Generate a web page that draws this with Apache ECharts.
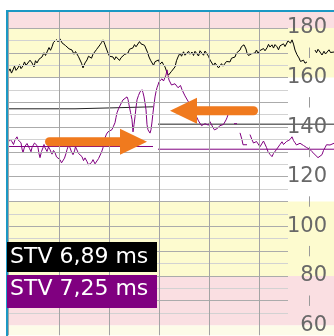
<!DOCTYPE html>
<html>
<head>
<meta charset="utf-8">
<script src="https://cdn.jsdelivr.net/npm/echarts@6/dist/echarts.min.js"></script>
<style>
  html, body { margin: 0; padding: 0; background: #fff; }
  #chart { width: 334px; height: 336px; }
</style>
</head>
<body>
<div id="chart"></div>
<script>
// Time axis in minutes, heart rate in bpm.
const xMin = -0.02, xMax = 6.5;
const yMin = 56.06, yMax = 186.44;

// Right-hand scale labels (bpm)
const scaleLabels = [60, 80, 100, 120, 140, 160, 180];
// Short marks between the labels (bpm)
const midMarks = [70, 90, 110, 130, 150, 170];
// Horizontal grid values (bpm)
const majorLines = [70, 80, 90, 100, 110, 120, 130, 140, 150, 160, 170, 180];
const minorLines = [65, 75, 85, 95, 105, 115, 125, 135, 145, 155, 165, 175];
// One vertical line per minute
const minuteLines = [1, 2, 3, 4, 5];

// Background zones [from bpm, to bpm]
const pinkZones = [[180, 186.44], [60, 80]];
const yellowZones = [[160, 180], [80, 110]];
const creamZones = [[56.06, 60]];

// Twin 1 heart rate trace [minute, bpm]
const fhr1 = [
[-0.02,162.0],[0.02,163.5],[0.05,161.8],[0.08,163.1],[0.11,164.6],[0.14,162.9],[0.18,163.9],[0.21,165.2],[0.24,163.6],[0.28,164.7],
[0.31,166.3],[0.34,164.9],[0.38,165.5],[0.42,167.0],[0.46,165.9],[0.50,164.3],[0.53,166.8],[0.56,165.9],[0.60,167.4],[0.63,166.6],
[0.66,168.3],[0.70,170.0],[0.73,168.9],[0.76,170.3],[0.80,172.1],[0.83,171.0],[0.86,172.4],[0.89,174.2],[0.92,174.0],[0.95,175.3],
[0.98,174.4],[1.02,175.6],[1.06,174.0],[1.10,174.8],[1.13,172.9],[1.16,173.2],[1.20,171.6],[1.23,172.4],[1.26,171.1],[1.30,169.4],
[1.33,170.5],[1.36,169.9],[1.39,168.4],[1.42,167.9],[1.45,165.8],[1.48,163.9],[1.52,165.9],[1.56,167.1],[1.59,168.6],[1.62,169.1],
[1.65,167.8],[1.68,169.4],[1.72,169.9],[1.75,171.3],[1.78,170.6],[1.82,173.2],[1.85,174.1],[1.88,175.2],[1.90,174.3],[1.92,173.2],
[1.95,171.5],[1.98,169.9],[2.01,168.6],[2.04,169.2],[2.08,168.3],[2.11,167.2],[2.14,168.4],[2.18,167.9],[2.21,166.9],[2.24,168.0],
[2.28,167.9],[2.31,169.3],[2.34,168.6],[2.38,169.9],[2.41,171.4],[2.44,170.7],[2.48,172.0],[2.51,173.3],[2.54,172.4],[2.58,173.2],
[2.61,174.5],[2.64,173.6],[2.68,174.0],[2.71,173.0],[2.74,172.4],[2.77,170.2],[2.80,168.3],[2.83,167.0],[2.86,166.3],[2.89,164.9],
[2.92,166.4],[2.96,165.9],[2.99,167.1],[3.02,165.4],[3.06,166.3],[3.09,165.2],[3.12,164.3],[3.16,162.0],[3.19,161.0],[3.22,160.3],
[3.25,162.5],[3.28,163.1],[3.32,164.3],[3.35,166.8],[3.38,168.3],[3.42,169.9],[3.45,168.6],[3.49,170.4],[3.52,169.0],[3.56,169.1],
[3.59,170.6],[3.62,169.4],[3.66,170.3],[3.69,168.9],[3.72,170.6],[3.76,169.9],[3.79,168.7],[3.82,170.8],[3.86,170.3],[3.89,169.0],
[3.92,170.7],[3.96,169.9],[3.99,168.6],[4.02,167.1],[4.06,166.3],[4.09,164.8],[4.12,165.9],[4.16,165.1],[4.19,163.9],[4.22,164.3],
[4.25,165.6],[4.28,164.6],[4.32,165.1],[4.35,166.5],[4.38,165.7],[4.42,166.3],[4.45,167.8],[4.48,167.1],[4.52,168.3],[4.55,169.9],
[4.58,169.2],[4.62,171.1],[4.65,172.5],[4.68,172.0],[4.70,173.2],[4.72,174.0],[4.74,171.5],[4.76,169.9],[4.79,168.9],[4.82,168.3],
[4.85,169.6],[4.88,168.8],[4.92,169.9],[4.95,171.1],[4.98,169.8],[5.02,170.9],[5.06,170.3],[5.09,171.7],[5.12,170.8],[5.16,172.0],
[5.19,173.4],[5.22,172.3],[5.26,173.2],[5.29,171.9],[5.32,173.3],[5.36,172.4],[5.39,171.2],[5.42,172.8],[5.46,172.0],[5.49,173.6],
[5.52,172.5],[5.56,173.2],[5.58,174.8],[5.60,174.4],[5.63,173.9],[5.66,175.2],[5.69,173.5],[5.72,171.1],[5.76,169.2],[5.80,167.9],
[5.83,166.5],[5.86,165.9],[5.89,167.0],[5.92,165.8],[5.96,166.3],[6.04,'-'],[6.12,171.1],[6.15,170.0],[6.18,171.4],[6.22,170.3],
[6.26,169.1],[6.30,170.6],[6.33,169.5],[6.36,169.9],[6.40,171.2],[6.43,170.1],[6.47,170.9],[6.50,170.3]
];

// Twin 2 heart rate trace [minute, bpm]
const fhr2 = [
[-0.02,133.7],[0.02,135.2],[0.06,134.1],[0.09,133.0],[0.12,134.9],[0.16,136.1],[0.18,134.9],[0.21,135.6],[0.24,133.7],[0.26,131.2],
[0.28,129.7],[0.31,132.0],[0.34,131.7],[0.36,133.4],[0.38,132.9],[0.41,131.4],[0.44,130.1],[0.46,131.8],[0.48,132.1],[0.51,133.6],
[0.54,134.1],[0.56,132.6],[0.58,131.7],[0.60,129.3],[0.62,127.7],[0.65,130.2],[0.68,131.7],[0.70,133.0],[0.72,131.7],[0.76,130.2],
[0.79,132.0],[0.82,130.9],[0.86,129.1],[0.89,130.6],[0.92,129.7],[0.95,128.0],[0.98,128.8],[1.02,126.9],[1.05,125.6],[1.08,124.9],
[1.11,127.5],[1.14,129.4],[1.16,130.9],[1.19,132.6],[1.22,131.7],[1.25,130.0],[1.28,128.9],[1.31,130.4],[1.33,132.1],[1.36,131.3],
[1.39,129.4],[1.42,130.1],[1.46,128.1],[1.49,126.5],[1.52,127.6],[1.56,126.1],[1.59,124.8],[1.62,124.1],[1.65,125.7],[1.68,126.9],
[1.72,125.2],[1.76,125.7],[1.79,127.3],[1.82,128.1],[1.85,129.9],[1.88,131.7],[1.90,133.9],[1.92,135.7],[1.95,137.2],[1.98,138.1],
[2.02,137.6],[2.06,139.0],[2.09,140.4],[2.12,141.8],[2.14,143.9],[2.16,145.8],[2.19,147.4],[2.22,148.2],[2.25,149.9],[2.28,151.0],
[2.32,150.6],[2.36,152.2],[2.38,151.2],[2.40,149.0],[2.43,146.0],[2.46,143.0],[2.48,138.1],[2.50,141.0],[2.52,144.2],[2.54,147.9],
[2.56,151.0],[2.59,152.8],[2.62,154.2],[2.66,155.1],[2.68,153.9],[2.70,152.2],[2.72,149.8],[2.74,147.0],[2.76,141.0],[2.78,138.9],
[2.80,138.1],[2.82,137.6],[2.84,139.0],[2.86,142.1],[2.88,145.8],[2.90,149.1],[2.92,152.2],[2.94,154.3],[2.96,155.9],[2.98,157.0],
[3.00,158.3],[3.03,159.0],[3.06,159.5],[3.09,158.6],[3.12,159.1],[3.14,161.0],[3.16,163.1],[3.18,160.9],[3.20,159.0],[3.22,158.3],
[3.25,157.0],[3.28,156.3],[3.32,157.5],[3.36,157.1],[3.38,155.9],[3.40,155.9],[3.43,156.8],[3.46,155.1],[3.52,152.6],[3.58,150.5],
[3.64,148.4],[3.70,146.0],[3.76,143.8],[3.79,142.5],[3.82,141.8],[3.85,140.6],[3.88,140.2],[3.92,141.4],[3.96,141.8],[3.99,140.8],
[4.02,142.2],[4.05,141.0],[4.08,139.8],[4.11,138.9],[4.14,138.1],[4.16,139.4],[4.18,139.0],[4.22,140.6],[4.26,140.2],[4.29,141.1],
[4.32,141.8],[4.34,142.9],[4.36,143.8],[4.38,145.0],[4.40,'-'],[4.50,141.4],[4.56,141.4],[4.58,'-'],[4.62,137.7],[4.66,134.9],
[4.68,132.9],[4.72,133.2],[4.76,132.9],[4.78,'-'],[4.82,137.0],[4.86,134.9],[4.89,133.6],[4.92,132.9],[4.95,134.2],[4.98,133.7],
[5.02,132.1],[5.06,132.9],[5.09,134.4],[5.12,133.7],[5.15,131.8],[5.18,130.1],[5.22,129.0],[5.26,128.1],[5.29,129.4],[5.32,129.7],
[5.35,131.0],[5.38,131.7],[5.42,133.0],[5.46,134.1],[5.49,133.0],[5.52,132.9],[5.55,134.2],[5.58,133.7],[5.62,135.0],[5.66,136.1],
[5.69,134.6],[5.72,133.7],[5.75,132.8],[5.78,132.1],[5.82,133.5],[5.86,133.7],[5.89,132.6],[5.92,132.9],[5.95,131.8],[5.98,131.7],
[6.02,131.0],[6.06,130.1],[6.09,129.5],[6.12,128.9],[6.15,128.2],[6.18,127.7],[6.22,128.4],[6.26,128.9],[6.29,130.6],[6.32,131.7],
[6.35,132.9],[6.38,133.7],[6.42,132.8],[6.46,132.9],[6.50,133.5]
];

// Baselines of both traces [minute, bpm]
const baseline1 = [[-0.02,147.4],[1.32,147.4],[1.32,148.2],[2.88,148.2],[2.93,'-'],[2.98,141.2],[6.5,141.2]];
const baseline2 = [[-0.02,132.2],[2.88,132.2],[2.93,'-'],[2.98,131.1],[6.5,131.1]];

// Annotation arrows [tail minute, tip minute, bpm]
const arrows = [[0.81, 2.76, 134.1], [4.89, 3.22, 146.6]];

// Short-term variation readouts
const stvLabels = ['STV 6,89 ms', 'STV 7,25 ms'];

const gridEnd = 5.58;     // horizontal rules stop before the scale labels
const markColumn = 6.0;   // column of the short marks between labels

const PINK = '#fadfe2', YELLOW = '#fdfbcf', CREAM = '#fdfbe8';
const ORANGE = '#f07a1e', PURPLE = '#800080', TEAL = '#1b98c4';

function zone(list, color) {
  return list.map(z => [{ yAxis: z[0], itemStyle: { color: color } }, { yAxis: z[1] }]);
}
function hline(v, color) {
  return [{ coord: [xMin, v], lineStyle: { color: color } }, { coord: [gridEnd, v] }];
}

const chart = echarts.init(document.getElementById('chart'), null, { renderer: 'canvas' });

chart.setOption({
  animation: false,
  backgroundColor: '#fff',
  grid: { left: 8, right: 0, top: 12, bottom: 0 },
  xAxis: { type: 'value', min: xMin, max: xMax, show: false },
  yAxis: {
    type: 'value', position: 'right', min: yMin, max: yMax, z: 6,
    axisLine: { show: false }, axisTick: { show: false }, splitLine: { show: false },
    axisLabel: {
      inside: true, margin: 7, customValues: scaleLabels,
      fontFamily: 'DejaVu Sans', fontSize: 21, color: '#686868'
    }
  },
  series: [
    {
      name: 'zones', type: 'line', z: 0, silent: true, symbol: 'none',
      data: [[xMin, 100]], lineStyle: { opacity: 0 },
      markArea: {
        silent: true,
        data: [].concat(zone(pinkZones, PINK), zone(yellowZones, YELLOW), zone(creamZones, CREAM))
      }
    },
    {
      name: 'rules', type: 'line', z: 1, silent: true, symbol: 'none',
      data: [[xMin, 100]], lineStyle: { opacity: 0 },
      markLine: {
        silent: true, symbol: 'none', label: { show: false },
        lineStyle: { type: 'solid', width: 1 },
        data: [].concat(
          minorLines.map(v => hline(v, '#d2d2d2')),
          majorLines.map(v => hline(v, '#ababab')),
          minuteLines.map(m => ({ xAxis: m, lineStyle: { color: '#a4a4a4' } })),
          [{ xAxis: xMin + 0.01, lineStyle: { color: '#a4a4a4' } }],
          midMarks.map(v => [{ coord: [markColumn, v - 2.1], lineStyle: { color: '#9a9a9a' } }, { coord: [markColumn, v + 2.1] }])
        )
      }
    },
    {
      name: 'baseline 1', type: 'line', z: 3, silent: true, symbol: 'none',
      data: baseline1, lineStyle: { color: '#222', width: 1 }
    },
    {
      name: 'baseline 2', type: 'line', z: 3, silent: true, symbol: 'none',
      data: baseline2, lineStyle: { color: PURPLE, width: 1 }
    },
    {
      name: 'FHR 1', type: 'line', z: 4, symbol: 'none', connectNulls: false,
      data: fhr1, lineStyle: { color: '#000', width: 1 }
    },
    {
      name: 'FHR 2', type: 'line', z: 4, symbol: 'none', connectNulls: false,
      data: fhr2, lineStyle: { color: PURPLE, width: 1 }
    },
    {
      name: 'arrows', type: 'custom', z: 5, silent: true,
      data: arrows,
      renderItem: function (params, api) {
        const tail = api.coord([api.value(0), api.value(2)]);
        const tip = api.coord([api.value(1), api.value(2)]);
        const dir = tip[0] > tail[0] ? 1 : -1;
        const headLen = 27, headHalf = 13;
        const base = tip[0] - dir * headLen;
        return {
          type: 'group',
          children: [
            { type: 'line', shape: { x1: tail[0], y1: tail[1], x2: base + dir * 2, y2: tip[1] },
              style: { stroke: ORANGE, lineWidth: 9, lineCap: 'round' } },
            { type: 'polygon', shape: { points: [[tip[0], tip[1]], [base, tip[1] - headHalf], [base, tip[1] + headHalf]] },
              style: { fill: ORANGE } }
          ]
        };
      }
    }
  ],
  graphic: [
    { type: 'line', shape: { x1: 6, y1: 11, x2: 334, y2: 11 }, style: { stroke: TEAL, lineWidth: 2 }, z: 10 },
    { type: 'line', shape: { x1: 7, y1: 10, x2: 7, y2: 336 }, style: { stroke: TEAL, lineWidth: 2 }, z: 10 },
    { type: 'rect', shape: { x: 7, y: 242, width: 150, height: 30 }, style: { fill: '#000' }, z: 10 },
    { type: 'text', x: 10, y: 257, z: 11,
      style: { text: stvLabels[0], fill: '#fff', font: '22px "DejaVu Sans"', verticalAlign: 'middle' } },
    { type: 'rect', shape: { x: 7, y: 275, width: 150, height: 33 }, style: { fill: PURPLE }, z: 10 },
    { type: 'text', x: 10, y: 289, z: 11,
      style: { text: stvLabels[1], fill: '#fff', font: '22px "DejaVu Sans"', verticalAlign: 'middle' } }
  ]
});
</script>
</body>
</html>
